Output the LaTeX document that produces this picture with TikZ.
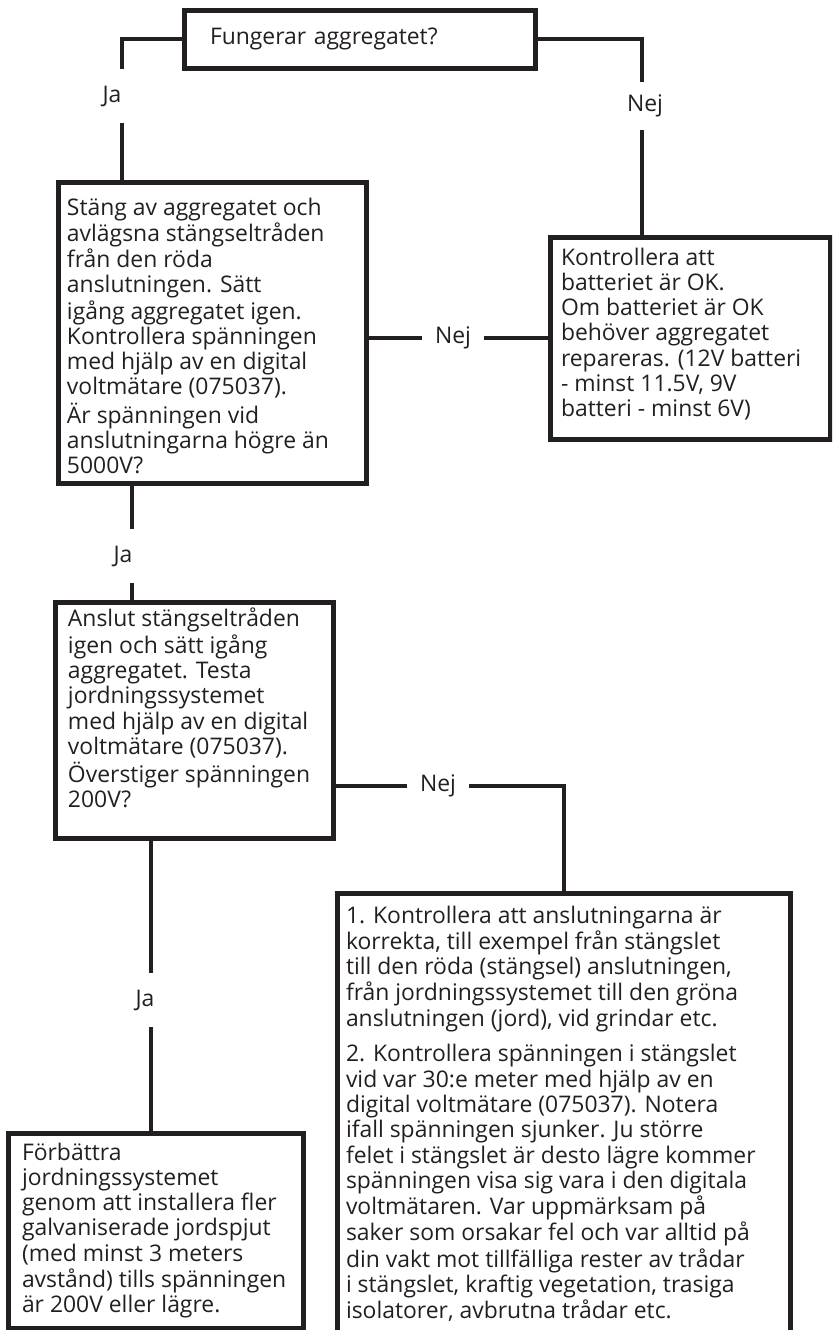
\documentclass[tikz,border=0pt]{standalone}
\usepackage{fontspec}
\setmainfont{Open Sans}
\definecolor{ink}{RGB}{35,31,32}
\tikzset{
  box/.style={draw=ink, line width=2.5pt, outer sep=0pt, anchor=north west, text=ink,
    font=\fontsize{11.45}{12.65}\selectfont},
  wire/.style={draw=ink, line width=2pt},
  lbl/.style={text=ink, font=\fontsize{11.45}{12.65}\selectfont, inner sep=0pt,
    minimum width=31pt, minimum height=27pt},
}
\newcommand{\boxlines}[3]{\parbox[t][#2][t]{#1}{\begin{tabular}[t]{@{}l@{}}#3\end{tabular}}}

\begin{document}
\begin{tikzpicture}[x=0.5pt, y=-0.5pt]
  \useasboundingbox (0,0) rectangle (832,1330);
  \clip (0,0) rectangle (832,1330);

  % boxes
  \node[box, minimum width=175.5pt, minimum height=29pt, inner xsep=13pt,
    text width=149.5pt, align=left] (b0) at (184,10) {Fungerar aggregatet?};
  \node[box, inner xsep=4.5pt, inner ysep=7.65pt] (b1) at (58,182) {\boxlines{145pt}{135.2pt}{%
    Stäng av aggregatet och\\ avlägsna stängseltråden\\ från den röda\\ anslutningen. Sätt\\
    igång aggregatet igen.\\ Kontrollera spänningen\\ med hjälp av en digital\\
    voltmätare (075037).\\ Är spänningen vid\\ anslutningarna högre än\\ 5000V?}};
  \node[box, inner xsep=5.5pt, inner ysep=5.15pt] (b2) at (550,237) {\boxlines{129pt}{90.7pt}{%
    Kontrollera att\\ batteriet är OK.\\ Om batteriet är OK\\ behöver aggregatet\\
    repareras. (12V batteri\\ - minst 11.5V, 9V\\ batteri - minst 6V)}};
  \node[box, inner xsep=6.5pt, inner ysep=3.15pt] (b3) at (55,602) {\boxlines{126pt}{111.7pt}{%
    Anslut stängseltråden\\ igen och sätt igång\\ aggregatet. Testa\\ jordningssystemet\\
    med hjälp av en digital\\ voltmätare (075037).\\ Överstiger spänningen\\ 200V?}};
  \node[box, inner xsep=4.5pt, inner ysep=6.15pt] (b4) at (337,893) {\boxlines{217.5pt}{221.2pt}{%
    1. Kontrollera att anslutningarna är\\ korrekta, till exempel från stängslet\\
    till den röda (stängsel) anslutningen,\\ från jordningssystemet till den gröna\\
    anslutningen (jord), vid grindar etc.\\[5.25pt]
    2. Kontrollera spänningen i stängslet\\ vid var 30:e meter med hjälp av en\\
    digital voltmätare (075037). Notera\\ ifall spänningen sjunker. Ju större\\
    felet i stängslet är desto lägre kommer\\ spänningen visa sig vara i den digitala\\
    voltmätaren. Var uppmärksam på\\ saker som orsakar fel och var alltid på\\
    din vakt mot tillfälliga rester av trådar\\ i stängslet, kraftig vegetation, trasiga\\
    isolatorer, avbrutna trådar etc.}};
  \node[box, inner xsep=7pt, inner ysep=4.65pt] (b5) at (8,1133) {\boxlines{133.5pt}{88.2pt}{%
    Förbättra\\ jordningssystemet\\ genom att installera fler\\ galvaniserade jordspjut\\
    (med minst 3 meters\\ avstånd) tills spänningen\\ är 200V eller lägre.}};

  % answers
  \node[lbl] (ja1) at (112,96) {Ja};
  \node[lbl, minimum height=24pt] (nej1) at (645,106) {Nej};
  \node[lbl] (nej2) at (453,338) {Nej};
  \node[lbl] (ja2) at (123,556) {Ja};
  \node[lbl] (nej3) at (438,786) {Nej};
  \node[lbl] (ja3) at (145,1000) {Ja};

  % connectors
  \draw[wire] (b0.west) -| ([xshift=5pt]ja1.north);
  \draw[wire] ([xshift=5pt]ja1.south) -- ([xshift=5pt]ja1.south |- b1.north);
  \draw[wire] (b0.east) -| ([xshift=-1.5pt]nej1.north);
  \draw[wire] ([xshift=-1.5pt]nej1.south) -- ([xshift=-1.5pt]nej1.south |- b2.north);
  \draw[wire] (b1.east |- nej2) -- (nej2.west);
  \draw[wire] (nej2.east) -- (b2.west |- nej2);
  \draw[wire] ([xshift=4.5pt]ja2.north |- b1.south) -- ([xshift=4.5pt]ja2.north);
  \draw[wire] ([xshift=4.5pt]ja2.south) -- ([xshift=4.5pt]ja2.south |- b3.north);
  \draw[wire] (b3.east |- nej3) -- (nej3.west);
  \draw[wire] (nej3.east) -| (b4.north);
  \draw[wire] ([xshift=3pt]ja3.north |- b3.south) -- ([xshift=3pt]ja3.north);
  \draw[wire] ([xshift=3pt]ja3.south) -- ([xshift=3pt]ja3.south |- b5.north);
\end{tikzpicture}
\end{document}
